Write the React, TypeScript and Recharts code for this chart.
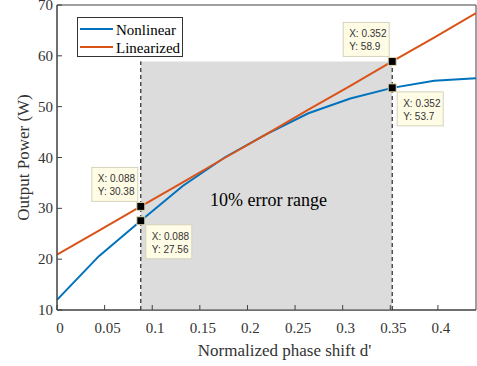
import { LineChart, Line, XAxis, YAxis, ReferenceArea, ReferenceLine, ReferenceDot, Legend, Label } from "recharts";

const xVals = [0, 0.044, 0.088, 0.132, 0.176, 0.22, 0.264, 0.308, 0.352, 0.396, 0.44];
const nonlinear = [12, 20.6, 27.56, 34.4, 40.0, 44.6, 48.7, 51.6, 53.7, 55.1, 55.6];
const linearized = [20.87, 25.6, 30.38, 35.1, 39.9, 44.6, 49.4, 54.1, 58.9, 63.6, 68.4];
const xTicks = [0, 0.05, 0.1, 0.15, 0.2, 0.25, 0.3, 0.35, 0.4];
const yTicks = [10, 20, 30, 40, 50, 60, 70];
const bounds = [0.088, 0.352];
const tips = [
  { x: 0.088, y: 30.38, side: "up" },
  { x: 0.088, y: 27.56, side: "down" },
  { x: 0.352, y: 58.9, side: "up" },
  { x: 0.352, y: 53.7, side: "down" },
];

const data = xVals.map((x, i) => ({ x, nl: nonlinear[i], lin: linearized[i] }));

const AXIS = "#404040";
const LABEL = "#333";
const SERIF = "'Liberation Serif', 'Times New Roman', serif";
const SANS = "'Liberation Sans', Arial, sans-serif";

const LeftTick = ({ x, y, payload }: any) => (
  <g>
    <line x1={x} x2={x + 5} y1={y} y2={y} stroke={AXIS} />
    <text x={x - 4} y={y} textAnchor="end" dominantBaseline="central" fill={LABEL} fontSize={15} fontFamily={SERIF}>{payload.value}</text>
  </g>
);
const BottomTick = ({ x, y, payload }: any) => (
  <g>
    <line x1={x} x2={x} y1={y} y2={y - 5} stroke={AXIS} />
    <text x={x + 3} y={y + 23} textAnchor="middle" fill={LABEL} fontSize={15} fontFamily={SERIF}>{payload.value}</text>
  </g>
);
const TopTick = ({ x, y }: any) => <line x1={x} x2={x} y1={y} y2={y + 5} stroke={AXIS} />;
const RightTick = ({ x, y }: any) => <line x1={x} x2={x - 5} y1={y} y2={y} stroke={AXIS} />;

function Tip(props: any) {
  const { cx, cy, tip } = props;
  const up = tip.side === "up";
  const bx = up ? cx - 49 : cx + 5;
  const by = up ? cy - 39 : cy + 4;
  return (
    <g>
      <rect x={bx} y={by} width={46} height={34} fill="#fffce6" stroke="#d6d2bc" />
      <text x={bx + 6} y={by + 15} fontSize={10} fontFamily={SANS} fill="#333">{`X: ${tip.x}`}</text>
      <text x={bx + 6} y={by + 28} fontSize={10} fontFamily={SANS} fill="#333">{`Y: ${tip.y}`}</text>
      <rect x={cx - 4} y={cy - 4} width={8} height={8} fill="#000" stroke="#e2dcb4" />
    </g>
  );
}

const LegendBox = () => (
  <svg width={106} height={40}>
    <rect x={0.5} y={0.5} width={105} height={39} fill="#fff" stroke="#333" />
    <line x1={3} x2={36} y1={12} y2={12} stroke="#0072BD" strokeWidth={2} />
    <text x={39} y={18} fontSize={15} fontFamily={SERIF} fill="#000">Nonlinear</text>
    <line x1={3} x2={36} y1={30} y2={30} stroke="#D95319" strokeWidth={2} />
    <text x={39} y={35.5} fontSize={15} fontFamily={SERIF} fill="#000">Linearized</text>
  </svg>
);

export default function App() {
  return (
    <div style={{ position: "absolute", left: 0, top: 0, background: "#fff" }}>
      <LineChart width={477} height={366} data={data} margin={{ top: 5, right: 1, left: 0, bottom: 0 }}>
        <XAxis dataKey="x" type="number" domain={[0, 0.44]} ticks={xTicks} allowDataOverflow height={56}
          stroke={AXIS} tickLine={false} tickSize={0} tickMargin={0} tick={<BottomTick />} interval={0}>
          <Label value="Normalized phase shift d'" position="insideBottom" offset={10} dx={18}
            style={{ fontSize: 17, fontFamily: SERIF, fill: LABEL }} />
        </XAxis>
        <XAxis xAxisId="top" orientation="top" type="number" domain={[0, 0.44]} ticks={xTicks} height={0}
          stroke={AXIS} tickLine={false} tickSize={0} tickMargin={0} tick={<TopTick />} interval={0} />
        <YAxis type="number" domain={[10, 70]} ticks={yTicks} width={57} allowDataOverflow
          stroke={AXIS} tickLine={false} tickSize={0} tickMargin={0} tick={<LeftTick />} interval={0}>
          <Label value="Output Power (W)" position="center" angle={-90} dx={-6}
            style={{ fontSize: 17, fontFamily: SERIF, fill: LABEL, textAnchor: "middle" }} />
        </YAxis>
        <YAxis yAxisId="right" orientation="right" type="number" domain={[10, 70]} ticks={yTicks} width={0}
          stroke={AXIS} tickLine={false} tickSize={0} tickMargin={0} tick={<RightTick />} interval={0} />
        <ReferenceArea x1={0} x2={0.44} y1={10} y2={70} fill="none" stroke={AXIS} />
        <ReferenceArea x1={bounds[0]} x2={bounds[1]} y1={10} y2={58.9} fill="#dcdcdc" fillOpacity={1} stroke="none">
          <Label value="10% error range" position="center" dx={2} dy={14}
            style={{ fontSize: 18, fontFamily: SERIF, fill: "#000" }} />
        </ReferenceArea>
        <Line dataKey="nl" stroke="#0072BD" strokeWidth={2} dot={false} isAnimationActive={false} />
        <Line dataKey="lin" stroke="#D95319" strokeWidth={2} dot={false} isAnimationActive={false} />
        {bounds.map((b) => (
          <ReferenceLine key={b} segment={[{ x: b, y: 10 }, { x: b, y: 58.9 }]} stroke="#000" strokeDasharray="4 3" />
        ))}
        {tips.map((t, i) => (
          <ReferenceDot key={i} x={t.x} y={t.y} r={4} shape={(p: any) => <Tip {...p} tip={t} />} />
        ))}
        <Legend layout="horizontal" verticalAlign="middle" align="center" content={<LegendBox />}
          wrapperStyle={{ left: 77, top: 17, width: 106, height: 40 }} />
      </LineChart>
    </div>
  );
}
